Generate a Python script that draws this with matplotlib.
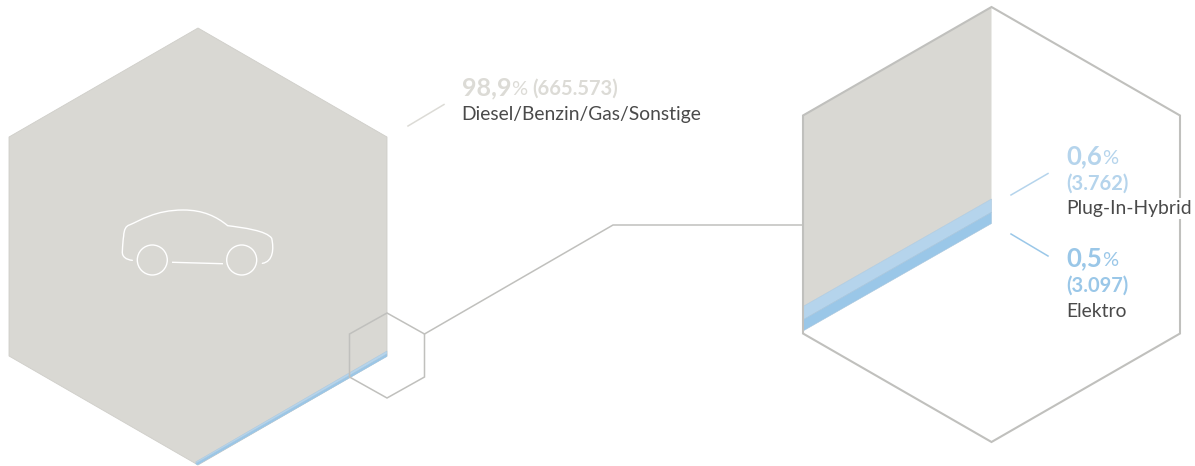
import matplotlib
matplotlib.use("Agg")
import matplotlib.pyplot as plt
from matplotlib.patches import Polygon, Circle
from matplotlib.path import Path
from matplotlib.patches import PathPatch

# data
categories = ["Diesel/Benzin/Gas/Sonstige", "Plug-In-Hybrid", "Elektro"]
shares = [98.9, 0.6, 0.5]
share_labels = ["98,9", "0,6", "0,5"]
count_labels = ["(665.573)", "(3.762)", "(3.097)"]

GRAY = "#d9d8d3"
LIGHT = "#b5d4ec"
BLUE = "#9ac7e8"
LINE = "#c0c0bd"
DARK = "#4a4a4a"
colors = [GRAY, LIGHT, BLUE]
text_colors = ["#dcdbd6", LIGHT, BLUE]

FONT = "Lato"

fig = plt.figure(figsize=(11.95, 4.66), dpi=100)
ax = fig.add_axes([0, 0, 1, 1])
ax.set_xlim(0, 1195)
ax.set_ylim(466, 0)
ax.axis("off")


def hexagon(cx, top, half_w, up, side):
    return [(cx, top), (cx + half_w, top + up), (cx + half_w, top + up + side),
            (cx, top + 2 * up + side), (cx - half_w, top + up + side), (cx - half_w, top + up)]


# left big hexagon: gray body, the two thin bands run along the lower right edge
left = hexagon(198, 28, 189, 109, 219)
ax.add_patch(Polygon(left, closed=True, fc=GRAY, ec="#cfcec9", lw=0.6, zorder=1))
left_scale = 5.0
y_r = 351.0
y_l = 462.0
x_r, x_l = 387, 195.5
for share, col in zip(shares[1:], colors[1:]):
    t = share * left_scale
    ax.add_patch(Polygon([(x_r, y_r), (x_r, y_r + t), (x_l + 2, y_l + t * 0.55), (x_l, y_l)],
                         closed=True, fc=col, ec="#a9c6dc", lw=0.3, zorder=2))
    y_r += t
    y_l += t * 0.55

# right zoomed hexagon
right = hexagon(991.5, 7, 188.5, 108.5, 218)
ax.add_patch(Polygon(right, closed=True, fc="white", ec="none", zorder=1))
right_scale = 22.3
y_r = 199.0
y_l = 306.5
ax.add_patch(Polygon([(991.5, 7), (991.5, y_r), (803, y_l), (803, 115)], closed=True,
                     fc=GRAY, ec="none", zorder=2))
for share, col in zip(shares[1:], colors[1:]):
    t = share * right_scale
    ax.add_patch(Polygon([(991.5, y_r), (991.5, y_r + t), (803, y_l + t), (803, y_l)],
                         closed=True, fc=col, ec="#a9c6dc", lw=0.4, zorder=2))
    y_r += t
    y_l += t
ax.add_patch(Polygon(right, closed=True, fc="none", ec=LINE, lw=1.5, zorder=3, joinstyle="miter"))

# small hexagon + connector
small = hexagon(387, 313, 37.5, 21, 43)
ax.add_patch(Polygon(small, closed=True, fc="none", ec=LINE, lw=1.1, zorder=4))
ax.plot([424.5, 613, 803], [334, 225, 225], color=LINE, lw=1.1, zorder=3)

# leader lines
ax.plot([408, 444], [126, 104.5], color=text_colors[0], lw=1.1, zorder=3)
ax.plot([1011, 1048], [195, 173.5], color=LIGHT, lw=1.1, zorder=3)
ax.plot([1011, 1048], [234, 256], color=BLUE, lw=1.1, zorder=3)

# car icon
verts = [(97, 211), (78, 209), (66, 200), (67, 185),
         (68, 165), (69, 150), (71, 138),
         (72, 118), (78, 108), (88, 105),
         (120, 92), (165, 60), (250, 60),
         (310, 60), (350, 80), (383, 107),
         (430, 113), (500, 122), (515, 145),
         (522, 175), (520, 215), (487, 220)]
codes = [Path.MOVETO] + [Path.CURVE4] * (len(verts) - 1)
car = Path([(100 + x / 3, 190 + y / 3) for x, y in verts], codes)
ax.add_patch(PathPatch(car, fc="none", ec="white", lw=1.0, zorder=3, capstyle="round"))
ax.add_patch(Circle((152.3, 260), 15, fc="none", ec="white", lw=1.0, zorder=3))
ax.add_patch(Circle((241.7, 260), 15, fc="none", ec="white", lw=1.0, zorder=3))
ax.plot([172.7, 222.3], [262.3, 263.7], color="white", lw=1.0, zorder=3)


def label_text(x, y, s, size, color, weight, **kw):
    return ax.text(x, y, s, fontsize=size, color=color, fontweight=weight, family=FONT,
                   va="baseline", ha="left", zorder=6, **kw)


def width_of(t):
    bb = t.get_window_extent(fig.canvas.get_renderer())
    return bb.width


# labels
t = label_text(462, 95, share_labels[0], 18, text_colors[0], "bold")
x = 462 + width_of(t)
t = label_text(x, 95, "%", 14.5, text_colors[0], "normal")
x += width_of(t) + 5
label_text(x, 95, count_labels[0], 14.5, text_colors[0], "bold")
label_text(461.5, 120, categories[0], 13.85, DARK, "normal")

for i, (y_share, y_count, y_name) in zip([1, 2], [(164, 190, 214), (266, 292, 317)]):
    t = label_text(1066, y_share, share_labels[i], 18.5, text_colors[i], "bold")
    label_text(1066 + width_of(t), y_share, "%", 14.5, text_colors[i], "normal")
    label_text(1066, y_count, count_labels[i], 14.5, text_colors[i], "bold")
    label_text(1066.5, y_name, categories[i], 13.85, DARK, "normal",
               bbox=dict(fc="white", ec="none", pad=1.5))

fig.savefig("out.png", dpi=100)
